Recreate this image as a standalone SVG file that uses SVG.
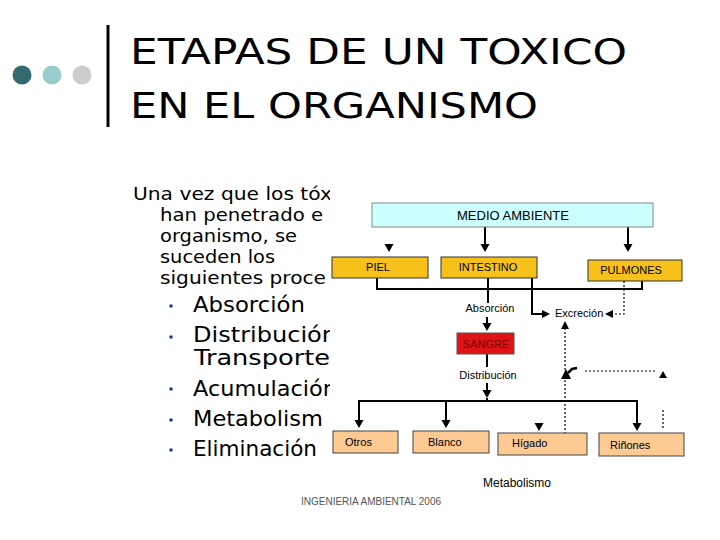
<svg xmlns="http://www.w3.org/2000/svg" width="720" height="540" viewBox="0 0 720 540">
<style>
.title{font-family:"DejaVu Sans",sans-serif;font-size:36px;fill:#000}
.body{font-family:"DejaVu Sans",sans-serif;font-size:18px;fill:#000}
.bul{font-family:"DejaVu Sans",sans-serif;font-size:21px;fill:#000}
.lbl{font-family:"Liberation Sans",Arial,sans-serif;font-size:11px;fill:#000}
.big{font-family:"Liberation Sans",Arial,sans-serif;font-size:13px;fill:#000}
.gold{fill:#f7c11c;stroke:#333;stroke-width:1}
.peach{fill:#fdca94;stroke:#444;stroke-width:1}
.ln{stroke:#000;stroke-width:2;fill:none}
.dot{stroke:#000;stroke-width:1.2;stroke-dasharray:2,2;fill:none}
.ah{fill:#000}
</style>
<defs>
<clipPath id="leftclip"><rect x="0" y="170" width="330" height="300"/></clipPath>
</defs>
<rect width="720" height="540" fill="#fff"/>
<g id="header">
<circle cx="22" cy="75" r="9.5" fill="#336a6e"/>
<circle cx="52" cy="75" r="9.5" fill="#99cccc"/>
<circle cx="82" cy="75" r="9.5" fill="#cccccc"/>
<rect x="106.5" y="25" width="3" height="102" fill="#000"/>
<text class="title" x="130" y="64" textLength="497" lengthAdjust="spacingAndGlyphs">ETAPAS DE UN TOXICO</text>
<text class="title" x="130" y="118" textLength="408" lengthAdjust="spacingAndGlyphs">EN EL ORGANISMO</text>
</g>
<g id="lefttext" clip-path="url(#leftclip)">
<text class="body" x="133" y="200" textLength="199" lengthAdjust="spacingAndGlyphs">Una vez que los tóx</text>
<text class="body" x="160" y="221" textLength="163" lengthAdjust="spacingAndGlyphs">han penetrado e</text>
<text class="body" x="160" y="242" textLength="137" lengthAdjust="spacingAndGlyphs">organismo, se</text>
<text class="body" x="160" y="263" textLength="115" lengthAdjust="spacingAndGlyphs">suceden los</text>
<text class="body" x="160" y="284" textLength="166" lengthAdjust="spacingAndGlyphs">siguientes proce</text>
<g fill="#1f3a8a">
<circle cx="171" cy="306" r="1.8"/>
<circle cx="171" cy="337" r="1.8"/>
<circle cx="171" cy="389" r="1.8"/>
<circle cx="171" cy="420" r="1.8"/>
<circle cx="171" cy="450" r="1.8"/>
</g>
<text class="bul" x="193" y="312" textLength="112" lengthAdjust="spacingAndGlyphs">Absorción</text>
<text class="bul" x="193" y="342" textLength="144" lengthAdjust="spacingAndGlyphs">Distribución</text>
<text class="bul" x="194" y="365" textLength="136" lengthAdjust="spacingAndGlyphs">Transporte</text>
<text class="bul" x="193" y="396" textLength="144" lengthAdjust="spacingAndGlyphs">Acumulación</text>
<text class="bul" x="193" y="426" textLength="130" lengthAdjust="spacingAndGlyphs">Metabolism</text>
<text class="bul" x="193" y="456" textLength="124" lengthAdjust="spacingAndGlyphs">Eliminación</text>
</g>
<g id="connectors">
<polygon class="ah" points="384.5,244 393.5,244 389,252"/>
<line class="ln" x1="485" y1="227" x2="485" y2="245"/>
<polygon class="ah" points="480.5,244 489.5,244 485,252"/>
<line class="ln" x1="628" y1="227" x2="628" y2="245"/>
<polygon class="ah" points="623.5,244 632.5,244 628,252"/>
<polyline class="ln" points="377,278 377,289 642,289 642,281"/>
<line class="ln" x1="488" y1="278" x2="488" y2="303"/>
<polyline class="ln" points="532,278 532,314 543,314"/>
<polygon class="ah" points="542,310 542,318 550,314"/>
<polyline class="dot" points="624,281 624,314 612,314"/>
<polygon class="ah" points="613,310 613,318 605,314"/>
<line class="ln" x1="487" y1="317" x2="487" y2="324"/>
<polygon class="ah" points="482.5,323 491.5,323 487,331"/>
<line class="ln" x1="487" y1="354" x2="487" y2="367"/>
<line class="ln" x1="487" y1="383" x2="487" y2="391"/>
<polygon class="ah" points="482.5,390 491.5,390 487,398"/>
<polyline class="ln" points="359,421 359,401 637,401 637,424"/>
<line class="ln" x1="487" y1="398" x2="487" y2="401"/>
<polygon class="ah" points="354.5,420 363.5,420 359,428"/>
<line class="ln" x1="446" y1="401" x2="446" y2="421"/>
<polygon class="ah" points="441.5,420 450.5,420 446,428"/>
<polygon class="ah" points="632.5,423 641.5,423 637,431"/>
<polygon class="ah" points="534.5,423 543.5,423 539,431"/>
<line class="dot" x1="565" y1="328" x2="565" y2="433"/>
<polygon class="ah" points="561,329 569,329 565,321"/>
<polygon class="ah" points="561,379 571,379 566,369"/>
<path d="M568,373 L572,369 L577,368" stroke="#000" stroke-width="2.5" fill="none"/>
<line class="dot" x1="585" y1="371" x2="656" y2="371"/>
<polygon class="ah" points="659,378 667,378 663,371"/>
<line class="dot" x1="663" y1="410" x2="663" y2="430"/>
</g>
<g id="medio">
<rect x="372" y="203" width="281" height="24" fill="#ccffff" stroke="#888" stroke-width="1"/>
<text class="big" x="513" y="220" text-anchor="middle">MEDIO AMBIENTE</text>
</g>
<g id="piel">
<rect class="gold" x="332" y="257" width="96" height="21"/>
<text class="lbl" x="378" y="271" text-anchor="middle">PIEL</text>
</g>
<g id="intestino">
<rect class="gold" x="441" y="257" width="96" height="21"/>
<text class="lbl" x="488" y="271" text-anchor="middle">INTESTINO</text>
</g>
<g id="pulmones">
<rect class="gold" x="588" y="260" width="94" height="21"/>
<text class="lbl" x="631" y="274" text-anchor="middle">PULMONES</text>
</g>
<g id="absorcion">
<text class="lbl" x="490" y="312" text-anchor="middle">Absorción</text>
</g>
<g id="excrecion">
<text class="lbl" x="555" y="317">Excreción</text>
</g>
<g id="sangre">
<rect x="457" y="333" width="57" height="21" fill="#e01414" stroke="#555" stroke-width="1"/>
<text class="lbl" x="486" y="348" text-anchor="middle" style="fill:#7a0000">SANGRE</text>
</g>
<g id="distribucion">
<text class="lbl" x="488" y="379" text-anchor="middle">Distribución</text>
</g>
<g id="otros">
<rect class="peach" x="333" y="431" width="65" height="22"/>
<text class="lbl" x="345" y="446">Otros</text>
</g>
<g id="blanco">
<rect class="peach" x="413" y="431" width="76" height="22"/>
<text class="lbl" x="428" y="446">Blanco</text>
</g>
<g id="higado">
<rect class="peach" x="498" y="433" width="89" height="22"/>
<text class="lbl" x="512" y="447">Hígado</text>
</g>
<g id="rinones">
<rect class="peach" x="599" y="433" width="85" height="23"/>
<text class="lbl" x="610" y="449">Riñones</text>
</g>
<g id="metabolismo">
<text class="lbl" x="517" y="487" text-anchor="middle" style="font-size:12px">Metabolismo</text>
</g>
<text x="301" y="505" style="font-family:'Liberation Sans',Arial,sans-serif;font-size:10px;fill:#555">INGENIERIA AMBIENTAL 2006</text>
</svg>
